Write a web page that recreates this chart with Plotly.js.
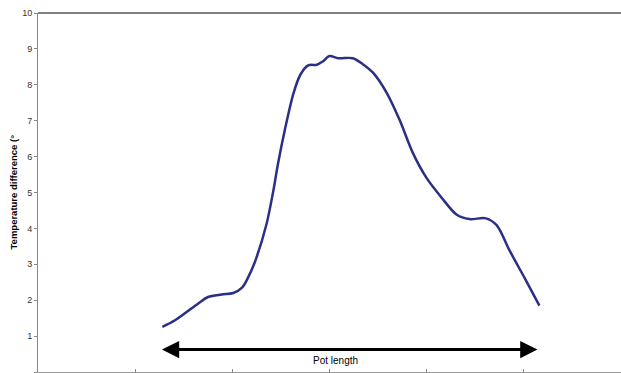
<!DOCTYPE html>
<html>
<head>
<meta charset="utf-8">
<script src="https://cdn.plot.ly/plotly-3.0.1.min.js"></script>
<style>html,body{margin:0;padding:0;background:#fff;}#chart{width:621px;height:373px;}</style>
</head>
<body>
<div id="chart"></div>
<script>
// Position along pot (category units) and temperature difference
const position = [1.28, 1.41, 1.65, 1.75, 1.89, 2.01, 2.10, 2.16, 2.23, 2.35, 2.42, 2.47, 2.54, 2.63, 2.70, 2.78, 2.87, 2.93, 3.00, 3.09, 3.24, 3.35, 3.45, 3.59, 3.72, 3.86, 4.00, 4.15, 4.31, 4.44, 4.61, 4.72, 4.85, 5.02, 5.16];
const tempDiff = [1.26, 1.44, 1.91, 2.09, 2.16, 2.20, 2.35, 2.62, 3.05, 4.10, 5.02, 5.80, 6.74, 7.77, 8.28, 8.54, 8.56, 8.65, 8.80, 8.74, 8.74, 8.56, 8.33, 7.77, 7.03, 6.09, 5.40, 4.87, 4.38, 4.26, 4.28, 4.09, 3.40, 2.56, 1.85];
const yTicks = [0, 1, 2, 3, 4, 5, 6, 7, 8, 9, 10];
const xTicks = [0, 1, 2, 3, 4, 5, 6];
const yTitle = "Temperature difference (°";
const arrowLabel = "Pot length";
const arrowStart = 1.26, arrowEnd = 5.14, arrowY = 0.625;

const trace = {
  x: position, y: tempDiff, type: 'scatter', mode: 'lines',
  line: {color: '#2B2F86', width: 2.5, shape: 'spline', smoothing: 0.9},
  hoverinfo: 'skip', showlegend: false
};

const layout = {
  width: 621, height: 373,
  margin: {l: 38, r: 0, t: 13, b: 1, pad: 0},
  paper_bgcolor: '#fff', plot_bgcolor: '#fff',
  font: {family: 'Liberation Sans, Arial, sans-serif', size: 9, color: '#333'},
  xaxis: {
    range: [0, 6], tickvals: xTicks, showticklabels: false, showgrid: false, zeroline: false,
    showline: true, linecolor: '#999', linewidth: 1, ticks: 'inside', ticklen: 3, tickcolor: '#888'
  },
  yaxis: {
    range: [0, 10], tickvals: yTicks, ticktext: yTicks.map(String), showgrid: false, zeroline: false,
    showline: true, linecolor: '#888', linewidth: 1, ticks: 'outside', ticklen: 3, tickcolor: '#888',
    tickfont: {size: 9, color: '#333'}
  },
  shapes: [
    {type: 'line', xref: 'paper', yref: 'paper', x0: 0, x1: 1, y0: 1, y1: 1, line: {color: '#555', width: 1.5}}
  ],
  annotations: [
    {x: -25 / 583, y: 0.5, xref: 'paper', yref: 'paper', xanchor: 'center', yanchor: 'middle', textangle: -90,
     text: '<b>' + yTitle + '</b>', showarrow: false, font: {size: 9.5, color: '#000'}},
    {x: arrowEnd, y: arrowY, ax: arrowStart, ay: arrowY, xref: 'x', yref: 'y', axref: 'x', ayref: 'y',
     showarrow: true, arrowhead: 2, startarrowhead: 2, arrowside: 'end+start', arrowsize: 1.15, arrowwidth: 3, arrowcolor: '#000', text: ''},
    {x: (arrowStart + arrowEnd) / 2 - 0.14, y: 0.31, xref: 'x', yref: 'y', text: arrowLabel, showarrow: false,
     font: {size: 10, color: '#000'}}
  ]
};

Plotly.newPlot('chart', [trace], layout, {staticPlot: true, displayModeBar: false});
</script>
</body>
</html>
